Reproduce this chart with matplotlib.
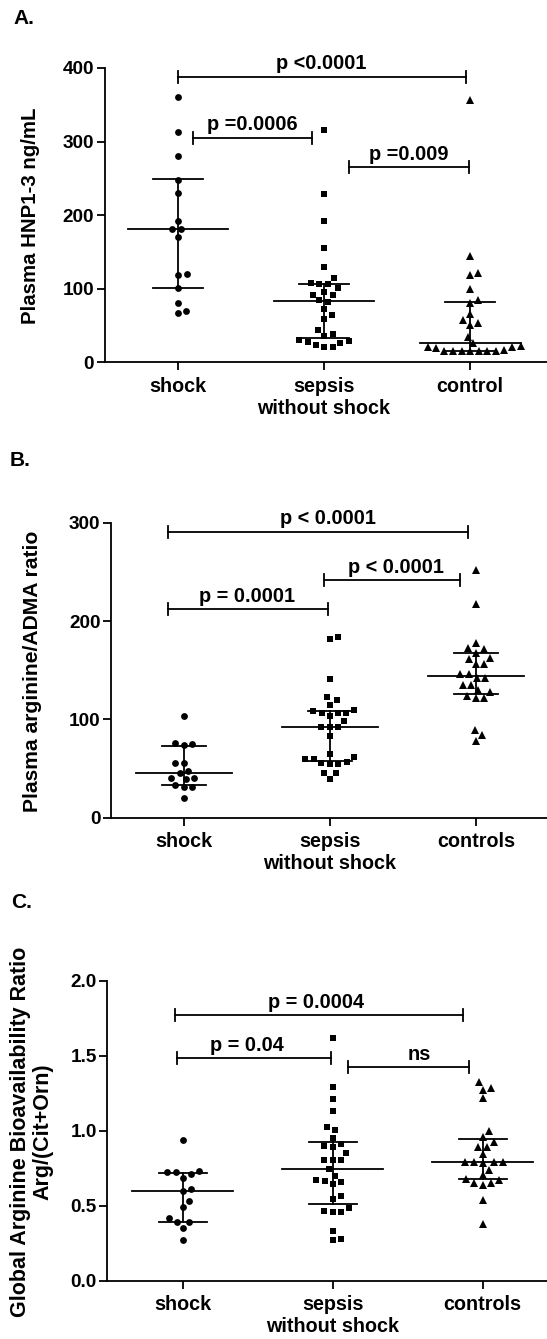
import numpy as np
import matplotlib
matplotlib.use('Agg')
import matplotlib.pyplot as plt

plt.rcParams['font.family'] = ['Liberation Sans', 'DejaVu Sans']
plt.rcParams['font.weight'] = 'bold'

# ---------------- data ----------------
# Panel A: Plasma HNP1-3 ng/mL
cats_A = ['shock', 'sepsis\nwithout shock', 'control']
shock_A = [361, 313, 280, 248, 230, 192, 181, 181, 170, 120, 119, 101, 80, 70, 67]
sepsis_A = [316, 229, 192, 156, 130, 114, 106.5, 106.5, 108, 101, 96, 91.5, 91.5, 84, 82.5,
            72, 64, 59, 44, 38, 36, 30.5, 28, 29.5, 26.5, 23.5, 21, 21]
control_A = [356, 145, 121, 118, 100, 85, 80, 66, 57, 54, 51, 35, 26, 22, 21,
             15, 15, 15, 15, 15, 15, 15, 16.5, 19, 21]
median_A = [181, 83, 26.5]
q1_A = [101, 33.5, 16]
q3_A = [248.5, 107, 82.5]
# brackets: x start, x end, y, label, label x
brk_A_x0 = [0.0, 0.10, 1.17]
brk_A_x1 = [1.97, 0.92, 1.99]
brk_A_y = [388, 305, 265]
brk_A_txt = ['p <0.0001', 'p =0.0006', 'p =0.009']
brk_A_tx = [0.98, 0.51, 1.58]

# Panel B: Plasma arginine/ADMA ratio
cats_B = ['shock', 'sepsis\nwithout shock', 'controls']
shock_B = [103.7, 75.6, 73.9, 74.6, 55.3, 55.3, 45.8, 47.8, 39.3, 40.7, 40.7, 30.8, 30.8, 33.2, 19.7]
sepsis_B = [181.7, 183.4, 140.7, 123, 119.7, 114.6, 109.5, 106.8, 106.8, 103.4, 106.8, 108.5,
            98.3, 92.5, 91.9, 91.9, 83, 64.7, 59.3, 56.3, 54.6, 54.6, 55.3, 59.3, 61.4,
            45.8, 45.1, 39.3]
control_B = [251.9, 216.9, 178, 172.2, 171.2, 167.8, 162.7, 161.7, 155.9, 155.9, 145.8, 141.7,
             141.7, 145.8, 134.9, 134.9, 129.8, 128.1, 123.7, 121.4, 121.4, 89.2, 84.1, 78.3]
median_B = [45, 92.5, 144]
q1_B = [33.2, 57.6, 125.4]
q3_B = [73.2, 108.5, 167]
brk_B_x0 = [-0.11, 0.96, -0.11]
brk_B_x1 = [1.95, 1.89, 0.99]
brk_B_y = [290.8, 241.7, 211.9]
brk_B_txt = ['p < 0.0001', 'p < 0.0001', 'p = 0.0001']
brk_B_tx = [0.99, 1.45, 0.43]

# Panel C: Global Arginine Bioavailability Ratio
cats_C = ['shock', 'sepsis\nwithout shock', 'controls']
shock_C = [0.938, 0.722, 0.711, 0.722, 0.729, 0.687, 0.600, 0.609, 0.531, 0.489, 0.420,
           0.387, 0.391, 0.349, 0.271]
sepsis_C = [1.621, 1.288, 1.21, 1.132, 1.021, 1.003, 0.948, 0.91, 0.888, 0.899, 0.852, 0.803,
            0.803, 0.803, 0.741, 0.699, 0.67, 0.657, 0.643, 0.661, 0.565, 0.541, 0.481, 0.455,
            0.455, 0.463, 0.332, 0.27, 0.279]
control_C = [1.325, 1.274, 1.286, 1.215, 0.997, 0.959, 0.925, 0.892, 0.892, 0.843, 0.788,
             0.788, 0.785, 0.788, 0.788, 0.74, 0.703, 0.675, 0.652, 0.652, 0.67, 0.637, 0.537,
             0.377]
median_C = [0.60, 0.743, 0.79]
q1_C = [0.389, 0.508, 0.679]
q3_C = [0.72, 0.925, 0.943]
brk_C_x0 = [-0.05, -0.035, 1.10]
brk_C_x1 = [1.87, 0.99, 1.91]
brk_C_y = [1.77, 1.481, 1.421]
brk_C_txt = ['p = 0.0004', 'p = 0.04', 'ns']
brk_C_tx = [0.89, 0.43, 1.58]

# ---------------- layout ----------------
W, H, DPI = 547, 1339, 100
LW = 1.3
fig = plt.figure(figsize=(W / DPI, H / DPI), dpi=DPI)


def add_axes(left, top, bottom):
    return fig.add_axes([left / W, 1 - bottom / H, (W - left) / W, (bottom - top) / H])


def swarm(values, ppu_y, ppc_x, diam):
    vals = np.asarray(values, float)
    order = np.argsort(vals, kind='stable')
    ys = vals * ppu_y
    placed = []
    xoff = np.zeros(len(vals))
    for i in order:
        y = ys[i]
        cands = [0.0]
        for (px, py) in placed:
            dy = abs(py - y)
            if dy < diam:
                dx = np.sqrt(diam ** 2 - dy ** 2)
                cands += [px + dx, px - dx]
        cands.sort(key=lambda c: (round(abs(c), 6), -c))
        chosen = 0.0
        for c in cands:
            if all((c - px) ** 2 + (y - py) ** 2 >= diam ** 2 - 1e-6 for px, py in placed):
                chosen = c
                break
        placed.append((chosen, y))
        xoff[i] = chosen / ppc_x
    return xoff


def panel(ax, groups, cats, med, q1, q3, ylim, yticks, yfmt,
          bx0, bx1, by, btxt, btx, medw, capw, xlim):
    ax.set_xlim(*xlim)
    ax.set_ylim(*ylim)
    bbox = ax.get_position()
    ax_w = bbox.width * W
    ax_h = bbox.height * H
    ppu_y = ax_h / (ylim[1] - ylim[0])
    ppc_x = ax_w / (xlim[1] - xlim[0])
    markers = [('o', 4.9), ('s', 4.4), ('^', 5.6)]
    for i, vals in enumerate(groups):
        xo = swarm(vals, ppu_y, ppc_x, 8.6)
        m, ms = markers[i]
        ax.plot(i + xo, vals, linestyle='none', marker=m, markersize=ms,
                color='black', markeredgewidth=0, zorder=3, clip_on=False)
        ax.plot([i - medw, i + medw], [med[i], med[i]], color='black', lw=LW, zorder=2)
        ax.plot([i - capw, i + capw], [q1[i], q1[i]], color='black', lw=LW, zorder=2)
        ax.plot([i - capw, i + capw], [q3[i], q3[i]], color='black', lw=LW, zorder=2)
        ax.plot([i, i], [q1[i], q3[i]], color='black', lw=LW, zorder=2)
    tick_h = 6.0 / ppu_y
    for x0, x1, y, t, tx in zip(bx0, bx1, by, btxt, btx):
        ax.plot([x0, x1], [y, y], color='black', lw=LW, clip_on=False)
        ax.plot([x0, x0], [y - tick_h, y + tick_h], color='black', lw=LW, clip_on=False)
        ax.plot([x1, x1], [y - tick_h, y + tick_h], color='black', lw=LW, clip_on=False)
        ax.annotate(t, (tx, y), xytext=(0, 2.5), textcoords='offset points',
                    ha='center', va='bottom', fontsize=14.3, fontweight='bold')
    ax.set_yticks(yticks)
    ax.set_yticklabels([yfmt.format(v) for v in yticks])
    ax.set_xticks(range(len(cats)))
    ax.set_xticklabels(cats, linespacing=1.2)
    for s in ['top', 'right']:
        ax.spines[s].set_visible(False)
    for s in ['left', 'bottom']:
        ax.spines[s].set_linewidth(LW)
    ax.tick_params(axis='both', length=5.5, width=LW, color='black')
    ax.tick_params(axis='y', labelsize=13.7, pad=2)
    ax.tick_params(axis='x', labelsize=14.2, pad=5)
    for lab in ax.get_xticklabels() + ax.get_yticklabels():
        lab.set_fontweight('bold')


axA = add_axes(104.6, 68, 362.3)
panel(axA, [shock_A, sepsis_A, control_A], cats_A, median_A, q1_A, q3_A,
      (0, 400), [0, 100, 200, 300, 400], '{:.0f}',
      brk_A_x0, brk_A_x1, brk_A_y, brk_A_txt, brk_A_tx, 0.345, 0.17, (-0.502, 2.526))

axB = add_axes(110.9, 522.7, 817.7)
panel(axB, [shock_B, sepsis_B, control_B], cats_B, median_B, q1_B, q3_B,
      (0, 300), [0, 100, 200, 300], '{:.0f}',
      brk_B_x0, brk_B_x1, brk_B_y, brk_B_txt, brk_B_tx, 0.33, 0.15, (-0.499, 2.488))

axC = add_axes(107.3, 980.7, 1280.5)
panel(axC, [shock_C, sepsis_C, control_C], cats_C, median_C, q1_C, q3_C,
      (0, 2.0), [0.0, 0.5, 1.0, 1.5, 2.0], '{:.1f}',
      brk_C_x0, brk_C_x1, brk_C_y, brk_C_txt, brk_C_tx, 0.335, 0.16, (-0.503, 2.429))

# y labels
fig.text(30.7 / W, 1 - 216 / H, 'Plasma HNP1-3 ng/mL', rotation=90, ha='center', va='center',
         fontsize=14.7, fontweight='bold')
fig.text(33 / W, 1 - 671 / H, 'Plasma arginine/ADMA ratio', rotation=90, ha='center',
         va='center', fontsize=15.2, fontweight='bold')
fig.text(32 / W, 1 - 1131.5 / H, 'Global Arginine Bioavailability Ratio\nArg/(Cit+Orn)',
         rotation=90, ha='center', va='center', fontsize=15.5, fontweight='bold',
         multialignment='center', linespacing=1.12)

# panel letters
fig.text(13 / W, 1 - 19 / H, 'A.', ha='left', va='center', fontsize=15, fontweight='bold')
fig.text(10 / W, 1 - 461 / H, 'B.', ha='left', va='center', fontsize=15, fontweight='bold')
fig.text(11 / W, 1 - 902 / H, 'C.', ha='left', va='center', fontsize=15, fontweight='bold')

fig.savefig('out.png', dpi=DPI)
